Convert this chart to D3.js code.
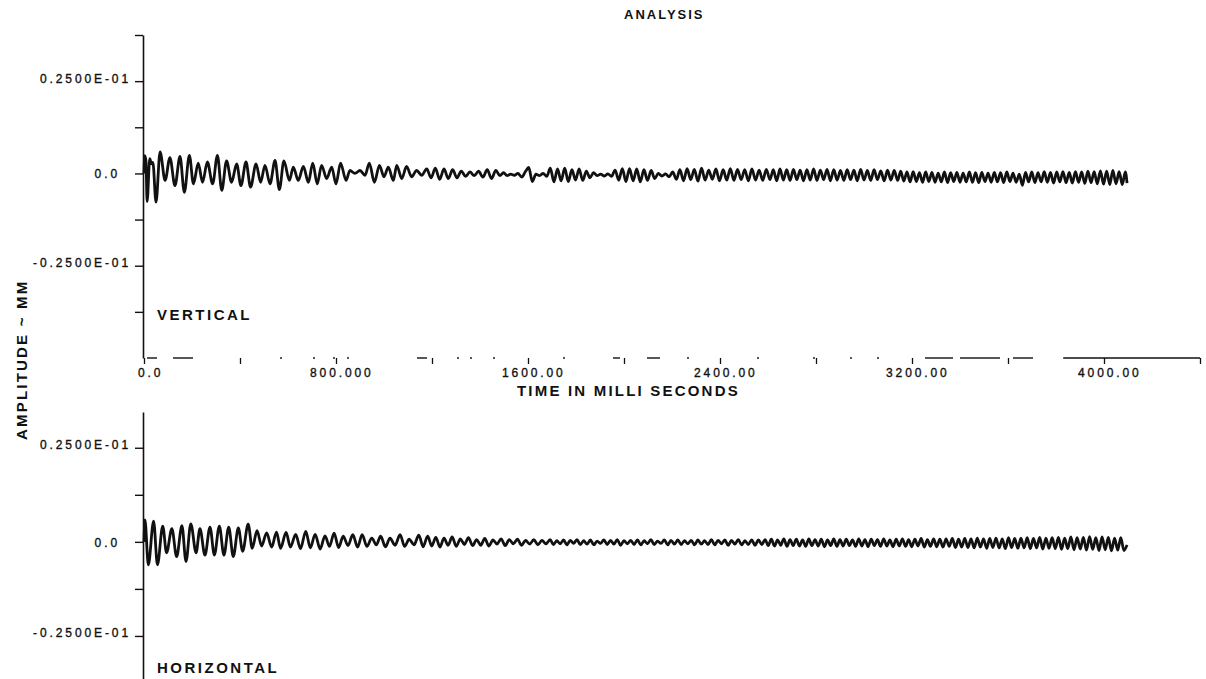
<!DOCTYPE html>
<html>
<head>
<meta charset="utf-8">
<script src="https://cdn.jsdelivr.net/npm/d3@7"></script>
<style>
body { margin: 0; background: #fff; }
svg { display: block; }
.tick text, .tlabel { font-family: "Liberation Sans", Arial, sans-serif; font-size: 12px; letter-spacing: 2.9px; fill: #111; stroke: #111; stroke-width: 0.35px; }
.bold { font-family: "Liberation Sans", Arial, sans-serif; font-weight: bold; fill: #111; }
</style>
</head>
<body>
<svg id="chart" width="1206" height="679"></svg>
<script>
// tick values / labels
const ampTickTop = [0.0375, 0.025, 0.0125, 0, -0.0125, -0.025, -0.0375];
const ampTickBot = [0.025, 0.0125, 0, -0.0125, -0.025, -0.0375];
const ampLabelValues = [0.025, 0, -0.025];
const ampLabels = ["0.2500E-01", "0.0", "-0.2500E-01"];
const timeTicks = [0, 400, 800, 1200, 1600, 2000, 2400, 2800, 3200, 3600, 4000, 4400];
const timeLabelValues = [0, 800, 1600, 2400, 3200, 4000];
const timeLabels = ["0.0", "800.000", "1600.00", "2400.00", "3200.00", "4000.00"];

// traces: [time ms, amplitude x 1e-3 mm], peaks and troughs
const vertical = [
  [0,0],[3,4.8],[8,3.4],[13,-7.6],[24,4.0],[31,2.6],[37,3.0],[50,-7.8],[67,5.8],[88,-1.9],
  [108,4.3],[129,-3.3],[150,4.6],[168,-5.1],[189,4.9],[206,-2.8],[226,2.8],[244,-2.4],[264,3.1],[286,-2.8],
  [306,4.9],[324,-4.6],[344,3.4],[365,-2.4],[386,2.6],[404,-3.3],[425,3.1],[444,-3.7],[467,2.6],[486,-2.4],
  [504,2.2],[525,-2.8],[546,3.5],[564,-4.4],[583,3.4],[606,-1.9],[622,1.7],[643,-1.9],[664,1.9],[685,-2.4],
  [703,2.8],[722,-2.8],[740,2.2],[761,-1.4],[782,1.7],[800,-2.8],[819,2.8],[842,-1.9],[858,0.8],[879,0.0],
  [900,0.8],[921,-0.5],[939,2.8],[960,-2.4],[981,2.2],[1000,-0.9],[1018,1.7],[1039,-1.9],[1053,2.2],[1074,-1.4],
  [1094,1.9],[1115,-0.9],[1136,0.8],[1157,-0.5],[1178,1.2],
  [1196,-1.2],[1214,1.4],[1232,-1.6],[1250,1.2],[1268,-1.4],[1286,1.0],[1304,-1.2],[1322,0.6],[1340,-0.8],[1358,0.4],
  [1376,-0.6],[1394,0.6],[1412,-1.0],[1430,1.0],[1448,-1.4],[1466,0.8],[1483,-0.6],
  [1498,0.2],[1513,-0.6],[1528,-0.2],[1543,-0.5],[1558,0.0],[1574,-1.0],[1590,0.6],[1603,1.6],[1618,-2.2],[1633,-0.2],
  [1648,-0.6],[1663,0.0],[1678,-0.8],[1693,1.4],[1708,-2.3],[1723,1.2],[1738,-2.0],[1753,1.4],[1768,-2.2],[1783,1.0],
  [1798,-1.8],[1813,1.2],[1828,-1.9],[1843,0.6],[1858,-1.2],[1873,0.2],[1888,-0.6],[1903,-0.2],[1918,-0.7],[1933,-0.1],
  [1948,-0.8],[1963,0.9],[1978,-1.8],[1993,1.3],[2008,-2.2],[2023,1.3],[2038,-2.0],[2053,1.2],[2068,-2.3],[2083,1.0],
  [2098,-1.9],[2113,0.8],[2128,-1.4],[2143,0.0],[2158,-0.7],[2173,-0.1],[2188,-0.9],[2203,0.4],[2218,-1.6],[2233,1.0],
  [2248,-2.0],[2263,1.3],[2278,-1.7],[2293,1.1],[2308,-2.1],[2323,1.4],[2338,-1.8],[2353,0.9],[2368,-1.6],[2383,1.2],
  [2398,-2.0],[2413,1.0],[2428,-1.8],[2443,1.3],[2458,-1.9],[2473,1.1],[2488,-1.7],[2503,1.0],[2518,-2.0],[2533,1.2],
  [2548,-1.8],[2563,0.9],[2578,-1.9],[2593,1.1],[2608,-1.7],[2622,1.0],[2636,-2.0],[2650,1.2],[2664,-1.8],[2678,1.0],
  [2692,-1.9],[2706,1.1],[2720,-1.7],[2734,0.9],[2748,-2.0],[2762,1.0],[2776,-1.8],[2790,1.2],[2804,-1.9],[2818,0.9],
  [2832,-1.7],[2846,1.1],[2860,-2.0],[2874,1.0],[2888,-1.8],[2902,0.8],[2916,-1.9],[2930,1.0],[2944,-1.7],[2958,0.9],
  [2972,-2.0],[2986,1.1],[3000,-1.8],[3014,0.8],[3028,-1.9],[3042,1.0],[3056,-1.7],[3070,0.7],[3084,-2.0],[3098,0.9],
  [3112,-1.8],[3126,0.8],[3140,-1.9],
  [3153,0.6],[3166,-2.1],[3179,0.4],[3192,-2.3],[3205,0.5],[3218,-2.2],[3231,0.2],[3244,-2.4],[3257,0.4],[3270,-2.2],
  [3283,0.3],[3296,-2.4],[3309,0.1],[3322,-2.3],[3335,0.4],[3348,-2.5],[3361,0.2],[3374,-2.2],[3387,0.3],[3400,-2.4],
  [3413,0.1],[3426,-2.3],[3439,0.4],[3452,-2.4],[3465,0.2],[3478,-2.5],[3491,0.3],[3504,-2.2],[3517,0.1],[3530,-2.4],
  [3543,0.3],[3556,-2.3],[3569,0.2],[3582,-2.5],[3595,0.4],[3608,-2.2],[3621,0.1],[3634,-2.4],[3647,-0.2],[3660,-3.2],
  [3673,0.3],[3686,-2.3],[3699,0.4],[3712,-2.5],[3725,0.2],[3738,-2.3],[3751,0.5],[3764,-2.4],[3777,0.3],[3790,-2.6],
  [3803,0.4],[3816,-2.3],[3829,0.5],[3842,-2.5],[3855,0.3],[3868,-2.6],[3881,0.5],[3894,-2.4],[3907,0.4],[3920,-2.7],
  [3933,0.6],[3946,-2.5],[3959,0.5],[3972,-2.8],[3985,0.7],[3998,-2.9],[4011,0.6],[4024,-3.0],[4037,0.8],[4050,-2.8],
  [4063,0.5],[4076,-3.0],[4089,0.4],[4096,-2.6]
];

const horizontal = [
  [0,0],[4,5.8],[18,-6.1],[40,5.5],[56,-6.1],[78,4.2],[94,-2.9],[116,3.5],[136,-3.9],[158,4.3],
  [175,-5.2],[195,4.8],[217,-2.9],[233,3.5],[254,-3.5],[275,3.9],[293,-3.5],[314,4.2],[333,-3.5],[353,3.9],
  [372,-3.9],[393,3.7],[411,-2.5],[434,4.7],[451,-1.7],[471,3.0],[490,-1.1],[511,2.4],[532,-1.4],[552,2.6],
  [569,-1.7],[592,2.5],[610,-1.4],[632,2.0],[652,-1.8],[674,2.8],[693,-1.6],[713,2.0],[734,-1.9],[754,1.6],
  [773,-1.2],[792,2.3],[811,-1.5],[830,1.5],[850,-1.0],[870,1.9],[890,-1.4],[909,1.9],[929,-1.2],[949,1.0],
  [968,-0.8],[986,1.5],[1006,-1.3],[1025,1.0],[1046,-0.9],[1067,1.9],[1086,-1.2],[1105,0.7],[1125,-0.8],[1145,1.8],
  [1163,-1.3],[1182,1.5],
  [1199,-1.1],[1216,1.2],[1233,-1.4],[1250,1.0],[1267,-0.9],[1284,1.3],[1301,-1.2],[1318,0.8],[1335,-0.7],[1352,1.1],
  [1369,-1.0],[1386,0.6],[1403,-0.9],[1420,0.9],[1437,-1.1],[1454,0.5],[1471,-0.6],[1488,0.8],[1505,-1.0],[1522,0.6],
  [1539,-0.5],[1556,0.7],[1573,-0.9],[1590,0.4],[1607,-0.6],[1624,0.6],[1641,-0.8],[1658,0.4],[1675,-0.5],[1692,0.6],
  [1706,-0.7],[1720,0.3],[1734,-0.5],[1748,0.5],[1762,-0.8],[1776,0.4],[1790,-0.4],[1804,0.6],[1818,-0.7],[1832,0.3],
  [1846,-0.6],[1860,0.5],[1874,-0.8],[1888,0.2],[1902,-0.4],[1916,0.5],[1930,-0.7],[1944,0.4],[1958,-0.6],[1972,0.6],
  [1986,-0.9],[2000,0.3],[2014,-0.5],[2028,0.4],[2042,-0.7],[2056,0.5],[2070,-0.8],[2084,0.3],[2098,-0.5],[2112,0.6],
  [2126,-0.7],[2140,0.2],[2154,-0.4],[2168,0.5],[2182,-0.8],[2196,0.4],[2210,-0.6],[2224,0.5],[2238,-0.7],[2252,0.3],
  [2266,-0.5],[2280,0.4],[2294,-0.8],[2308,0.5],[2322,-0.6],[2336,0.3],[2350,-0.7],[2364,0.6],[2378,-0.8],[2392,0.4],
  [2406,-0.5],[2420,0.5],[2434,-0.9],[2448,0.4],[2462,-0.6],[2476,0.6],[2490,-0.8],[2504,0.3],[2518,-0.7],[2532,0.5],
  [2546,-0.9],[2560,0.5],[2574,-0.7],[2588,0.6],
  [2601,-1.0],[2614,0.7],[2627,-1.1],[2640,0.5],[2653,-0.9],[2666,0.8],[2679,-1.2],[2692,0.6],[2705,-1.0],[2718,0.7],
  [2731,-1.1],[2744,0.5],[2757,-1.2],[2770,0.8],[2783,-1.0],[2796,0.6],[2809,-1.1],[2822,0.7],[2835,-1.3],[2848,0.5],
  [2861,-1.0],[2874,0.8],[2887,-1.2],[2900,0.6],[2913,-1.1],[2926,0.7],[2939,-1.0],[2952,0.5],[2965,-1.2],[2978,0.8],
  [2991,-1.1],[3004,0.6],[3017,-1.3],[3030,0.7],[3043,-1.0],[3056,0.6],[3069,-1.2],[3082,0.8],[3095,-1.1],[3108,0.5],
  [3121,-1.3],[3134,0.7],[3147,-1.1],[3160,0.8],[3173,-1.2],[3186,0.6],[3199,-1.3],[3212,0.7],[3225,-1.1],[3238,0.9],
  [3251,-1.4],[3264,0.6],[3277,-1.2],[3290,0.8],[3303,-1.3],[3316,0.7],[3329,-1.4],[3342,0.8],[3355,-1.2],[3368,0.9],
  [3381,-1.5],[3394,0.7],[3407,-1.4],[3420,0.9],[3433,-1.5],[3446,0.8],[3459,-1.6],[3472,1.0],[3485,-1.4],[3498,0.8],
  [3511,-1.7],[3524,0.9],[3537,-1.5],[3550,1.0],[3563,-1.6],[3576,0.8],[3589,-1.8],[3602,1.1],[3615,-1.5],[3628,0.9],
  [3641,-1.7],[3654,1.0],[3667,-1.6],[3680,1.1],[3693,-1.8],[3706,0.9],[3719,-1.6],[3732,1.2],[3745,-1.9],[3758,1.0],
  [3771,-1.7],[3784,1.1],[3797,-1.8],[3810,1.2],[3823,-2.0],[3836,1.0],[3849,-1.8],[3862,1.3],[3875,-2.1],[3888,1.1],
  [3901,-1.9],[3914,1.2],[3927,-2.2],[3940,1.4],[3953,-2.0],[3966,1.1],[3979,-2.3],[3992,1.3],[4005,-2.1],[4018,1.2],
  [4031,-2.4],[4044,1.0],[4057,-2.2],[4070,1.1],[4083,-2.3],[4096,-0.8]
];

const svg = d3.select('#chart');

const x = d3.scaleLinear().domain([0, 4400]).range([144, 1200]);
const yTop = d3.scaleLinear().domain([-0.05, 0.0375]).range([358, 35]);
const yBot = d3.scaleLinear().domain([-0.0375, 0.0345]).range([683, 412]);

// amplitude axes
function ampAxis(scale, ticks) {
  const g = svg.append('g')
    .attr('color', '#111')
    .attr('transform', `translate(${x(0) - 1},0)`)
    .call(d3.axisLeft(scale)
      .tickValues(ticks)
      .tickSize(8)
      .tickSizeOuter(0)
      .tickPadding(4)
      .tickFormat(v => {
        const i = ampLabelValues.indexOf(v);
        return i < 0 ? '' : ampLabels[i];
      }));
  g.select('.domain').attr('stroke-width', 1.6);
  g.selectAll('.tick line').attr('stroke-width', 1.4);
  g.selectAll('.tick text')
    .attr('dy', v => v === 0 ? '0.35em' : '0.08em')
    .attr('dx', v => v === 0 ? -11 : 0);
  return g;
}
ampAxis(yTop, ampTickTop);
ampAxis(yBot, ampTickBot);

// time axis (top panel only); the plotted base line is broken on the original
const xAxis = svg.append('g')
  .attr('color', '#111')
  .attr('transform', `translate(0,${yTop(-0.05)})`)
  .call(d3.axisBottom(x).tickValues(timeTicks).tickSize(6).tickSizeOuter(0).tickFormat(''));
xAxis.select('.domain').remove();
xAxis.selectAll('.tick line').attr('stroke-width', 1.3);

xAxis.append('line')
  .attr('x1', x(0)).attr('x2', x(3830))
  .attr('stroke', '#222').attr('stroke-width', 1.3)
  .attr('stroke-dasharray', '0 3 10 16 20 87 2 31 2 18 2 12 2 68 10 30 2 11 2 21 2 68 2 48 7 27 13 27 2 68 2 54 2 35 2 25 2 46 28 7 40 13 20 400');
xAxis.append('line')
  .attr('x1', x(3830)).attr('x2', x(4400))
  .attr('stroke', '#111').attr('stroke-width', 1.5);

svg.selectAll('.time-label')
  .data(timeLabelValues)
  .join('text')
  .attr('class', 'tlabel')
  .attr('x', (d, i) => x(d) + (i === 0 ? -6 : -26))
  .attr('y', yTop(-0.05) + 19)
  .text((d, i) => timeLabels[i]);

// traces
function trace(scale) {
  return d3.line()
    .x(d => x(d[0]))
    .y(d => scale(d[1] * 1e-3))
    .curve(d3.curveMonotoneX);
}
svg.append('path')
  .datum(vertical)
  .attr('d', trace(yTop))
  .attr('fill', 'none')
  .attr('stroke', '#111')
  .attr('stroke-width', 2.8)
  .attr('stroke-linejoin', 'round');
svg.append('path')
  .datum(horizontal)
  .attr('d', trace(yBot))
  .attr('fill', 'none')
  .attr('stroke', '#111')
  .attr('stroke-width', 2.8)
  .attr('stroke-linejoin', 'round');

// titles
svg.append('text').attr('class', 'bold')
  .attr('x', 624).attr('y', 19)
  .style('font-size', '13px').style('letter-spacing', '2px')
  .text('ANALYSIS');
svg.append('text').attr('class', 'bold')
  .attr('x', 157).attr('y', 320)
  .style('font-size', '15px').style('letter-spacing', '2.5px')
  .text('VERTICAL');
svg.append('text').attr('class', 'bold')
  .attr('x', 157).attr('y', 673)
  .style('font-size', '15px').style('letter-spacing', '2.5px')
  .text('HORIZONTAL');
svg.append('text').attr('class', 'bold')
  .attr('x', 517).attr('y', 396)
  .style('font-size', '15px').style('letter-spacing', '2.2px')
  .text('TIME IN MILLI SECONDS');
svg.append('text').attr('class', 'bold')
  .attr('transform', 'translate(27,440) rotate(-90)')
  .style('font-size', '15px').style('letter-spacing', '2.2px')
  .text('AMPLITUDE ~ MM');
</script>
</body>
</html>
